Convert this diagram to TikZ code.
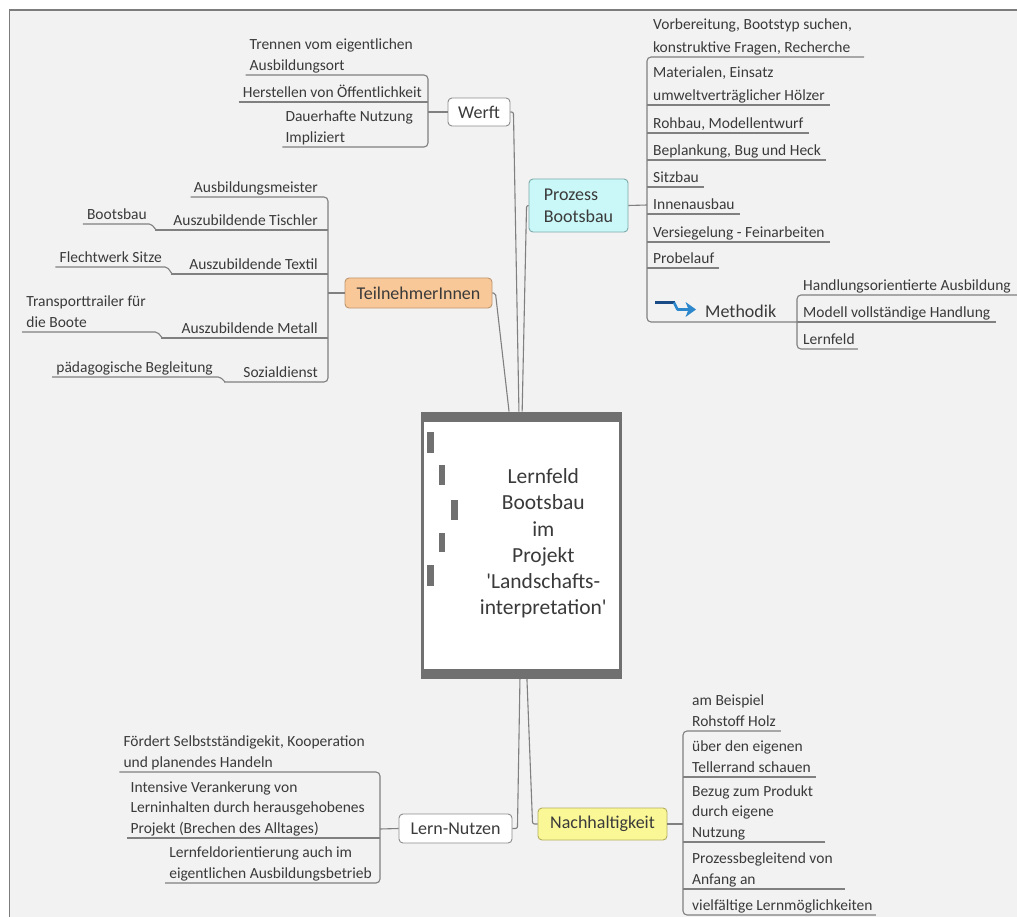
\documentclass[tikz,border=0pt]{standalone}
\usepackage{fontspec}
\setmainfont{Carlito}
\newfontfamily\hubfam{Carlito}[Ligatures=TeXOff]
\newcommand\leaffont{\fontsize{15.5}{20.5}\selectfont}
\newcommand\procfont{\fontsize{15.5}{23}\selectfont}
\newcommand\topicfont{\fontsize{18}{22}\selectfont}
\newcommand\hubfont{\hubfam\fontsize{21.5}{26.3}\selectfont}
\newcommand\ulstrut{\rule[-4.6pt]{0pt}{4.6pt}}
\definecolor{bgc}{RGB}{242,242,242}
\definecolor{framec}{RGB}{125,125,125}
\definecolor{linec}{RGB}{128,128,128}
\definecolor{txt}{RGB}{58,58,58}
\definecolor{hubc}{RGB}{112,112,112}
\definecolor{boxb}{RGB}{140,140,140}
\definecolor{cyanf}{RGB}{202,247,247}
\definecolor{cyanb}{RGB}{125,170,170}
\definecolor{orangef}{RGB}{249,200,152}
\definecolor{orangeb}{RGB}{190,150,110}
\definecolor{yellowf}{RGB}{250,247,150}
\definecolor{yellowb}{RGB}{180,175,95}
\definecolor{arrowdark}{RGB}{25,75,135}
\definecolor{arrowlight}{RGB}{45,135,205}
\tikzset{
  leaf/.style={font=\leaffont, text=txt, align=left, inner xsep=0pt, inner ysep=0pt, execute at end node=\ulstrut},
  topic/.style={font=\topicfont, text=txt, draw=boxb, fill=white, rounded corners=4pt, line width=0.9pt, inner sep=0pt},
  con/.style={draw=linec, line width=1.1pt, rounded corners=4pt},
  hubcon/.style={draw=linec, line width=1.1pt, rounded corners=2pt},
}
\begin{document}
\begin{tikzpicture}[x=1pt,y=-1pt]
\useasboundingbox (0,0) rectangle (1017,917);
% frame and background
\fill[white] (0,0) rectangle (1017,917);
\fill[bgc] (9.5,10) rectangle (1017,917);
\draw[framec, line width=1.2pt] (9.5,917) -- (9.5,10) -- (1017,10);

% central node
\node[fill=hubc, minimum width=201.3pt, minimum height=267.3pt, inner sep=0pt] (hub) at (521.35,545.35) {};
\fill[white] ([shift={(3,10)}]hub.north west) rectangle ([shift={(-3,-10)}]hub.south east);
\fill[hubc] (427,432) rectangle (434,453);
\fill[hubc] (439,465) rectangle (445,485);
\fill[hubc] (451,500) rectangle (458,520);
\fill[hubc] (439,533) rectangle (445,552);
\fill[hubc] (427,565) rectangle (434,586);
\node[font=\hubfont, text=txt, align=center, inner sep=0pt] (hubt) at (543.3,543.5) {Lernfeld\\Bootsbau\\im\\Projekt\\'Landschafts-\\interpretation'};

% main topics
\node[topic, minimum width=62pt, minimum height=28pt] (werft) at (479,112) {Werft};
\node[topic, fill=cyanf, draw=cyanb, minimum width=99pt, minimum height=53pt, align=left] (proz) at (578.5,205.5) {Prozess\\Bootsbau};
\node[topic, fill=orangef, draw=orangeb, minimum width=147pt, minimum height=30pt] (tn) at (418.5,293) {TeilnehmerInnen};
\node[topic, minimum width=113pt, minimum height=29pt] (lern) at (455.5,828.5) {Lern-Nutzen};
\node[topic, fill=yellowf, draw=yellowb, minimum width=129pt, minimum height=32pt] (nach) at (602.5,824) {Nachhaltigkeit};

% connectors to central node
\draw[hubcon] (tn.east) -- ++(3,0) -- ([xshift=-12.3pt]hub.north);
\draw[hubcon] (werft.east) -- ++(3,0) -- ([xshift=-2.4pt]hub.north);
\draw[hubcon] (proz.west) -- ++(-2,0) -- ([xshift=0.8pt]hub.north);
\draw[hubcon] (lern.east) -- ++(5,0) -- ([xshift=-1.4pt]hub.south);
\draw[hubcon] (nach.west) -- ++(-5,0) -- ([xshift=5.6pt]hub.south);

% Werft children
\node[leaf, anchor=south east] (w1) at (413,75) {Trennen vom eigentlichen\\Ausbildungsort};
\node[leaf, anchor=south east] (w2) at (422,102) {Herstellen von Öffentlichkeit};
\node[leaf, anchor=south east] (w3) at (413,147) {Dauerhafte Nutzung\\Impliziert};
\coordinate (wb) at (428,112);
\draw[con] ([xshift=-4pt]w1.south west) -- (w1.south -| wb) -- (w3.south -| wb) -- ([xshift=-3pt]w3.south west);
\draw[con] ([xshift=-4pt]w2.south west) -- (w2.south -| wb);
\draw[con] (werft.west) -- (wb);

% TeilnehmerInnen children
\node[leaf, anchor=south east] (t1) at (318,197) {Ausbildungsmeister};
\node[leaf, anchor=south east] (t2) at (318,230) {Auszubildende Tischler};
\node[leaf, anchor=south east] (t3) at (318,274) {Auszubildende Textil};
\node[leaf, anchor=south east] (t4) at (318,338) {Auszubildende Metall};
\node[leaf, anchor=south east] (t5) at (318,382) {Sozialdienst};
\coordinate (tb) at (328,293);
\draw[con] ([xshift=-3pt]t1.south west) -- (t1.south -| tb) -- (t5.south -| tb) -- ([xshift=-19pt]t5.south west);
\draw[con] ([xshift=-18pt]t2.south west) -- (t2.south -| tb);
\draw[con] ([xshift=-18pt]t3.south west) -- (t3.south -| tb);
\draw[con] ([xshift=-20pt]t4.south west) -- (t4.south -| tb);
\draw[con] (tn.west) -- (tb);
% grandchildren
\node[leaf, anchor=south east] (g1) at (147,224) {Bootsbau};
\node[leaf, anchor=south east] (g2) at (162,267) {Flechtwerk Sitze};
\node[leaf, anchor=south east] (g3) at (146,332) {Transporttrailer für\\die Boote};
\node[leaf, anchor=south east] (g4) at (213,377) {pädagogische Begleitung};
\draw[hubcon] ([xshift=-4pt]g1.south west) -- ([xshift=-22pt]t2.south west |- g1.south) -- ([xshift=-17pt]t2.south west);
\draw[hubcon] ([xshift=-4pt]g2.south west) -- ([xshift=-22pt]t3.south west |- g2.south) -- ([xshift=-17pt]t3.south west);
\draw[hubcon] ([xshift=-4pt]g3.south west) -- ([xshift=-24pt]t4.south west |- g3.south) -- ([xshift=-19pt]t4.south west);
\draw[hubcon] ([xshift=-4pt]g4.south west) -- ([xshift=-23pt]t5.south west |- g4.south) -- ([xshift=-18pt]t5.south west);

% Prozess Bootsbau children
\node[leaf, font=\procfont, anchor=south west] (p1) at (653,57) {Vorbereitung, Bootstyp suchen,\\konstruktive Fragen, Recherche};
\node[leaf, font=\procfont, anchor=south west] (p2) at (653,105) {Materialen, Einsatz\\umweltverträglicher Hölzer};
\node[leaf, anchor=south west] (p3) at (653,133) {Rohbau, Modellentwurf};
\node[leaf, anchor=south west] (p4) at (653,160) {Beplankung, Bug und Heck};
\node[leaf, anchor=south west] (p5) at (653,187) {Sitzbau};
\node[leaf, anchor=south west] (p6) at (653,214) {Innenausbau};
\node[leaf, anchor=south west] (p7) at (653,242) {Versiegelung - Feinarbeiten};
\node[leaf, anchor=south west] (p8) at (653,268) {Probelauf};
\node[leaf, font=\topicfont, anchor=south west] (meth) at (705,322) {Methodik};
\coordinate (pb) at (647,205);
\coordinate (mb) at (797,322);
\draw[con] ([xshift=12pt]p1.south east) -- (p1.south -| pb) -- (meth.south -| pb) -- (meth.south -| mb);
\foreach \n in {p2,p3,p4,p5,p6,p7,p8}{
  \draw[con] ([xshift=5pt]\n.south east) -- (\n.south -| pb);
}
\draw[con] (proz.east) -- (pb);
% Methodik icon
\draw[arrowdark, line width=2.6pt] (655,302.5) -- (675,302.5);
\draw[arrowlight, line width=2.6pt, line join=round] (674,302.5) -- (677.5,309.5) -- (689,309.5);
\fill[arrowlight] (685.5,302) -- (696,309.5) -- (685.5,317) -- (688.5,309.5) -- cycle;
% Methodik children
\node[leaf, anchor=south west] (m1) at (803,295) {Handlungsorientierte Ausbildung};
\node[leaf, anchor=south west] (m2) at (803,322) {Modell vollständige Handlung};
\node[leaf, anchor=south west] (m3) at (803,349) {Lernfeld};
\draw[con] ([xshift=6pt]m1.south east) -- (m1.south -| mb) -- (m3.south -| mb) -- ([xshift=3pt]m3.south east);
\draw[con] (mb) -- ([xshift=5pt]m2.south east);

% Lern-Nutzen children
\node[leaf, anchor=south east] (l1) at (365,772) {Fördert Selbstständigekit, Kooperation\\und planendes Handeln};
\node[leaf, anchor=south east] (l2) at (365,838) {Intensive Verankerung von\\Lerninhalten durch herausgehobenes\\Projekt (Brechen des Alltages)};
\node[leaf, anchor=south east] (l3) at (372,883) {Lernfeldorientierung auch im\\eigentlichen Ausbildungsbetrieb};
\coordinate (lb) at (380,829);
\draw[con] ([xshift=-4pt]l1.south west) -- (l1.south -| lb) -- (l3.south -| lb) -- ([xshift=-4pt]l3.south west);
\draw[con] ([xshift=-3pt]l2.south west) -- (l2.south -| lb);
\draw[con] (lern.west) -- (lb);

% Nachhaltigkeit children
\node[leaf, anchor=south west] (n1) at (692,731) {am Beispiel\\Rohstoff Holz};
\node[leaf, anchor=south west] (n2) at (692,777) {über den eigenen\\Tellerrand schauen};
\node[leaf, anchor=south west] (n3) at (692,842) {Bezug zum Produkt\\durch eigene\\Nutzung};
\node[leaf, anchor=south west] (n4) at (692,889) {Prozessbegleitend von\\Anfang an};
\node[leaf, anchor=south west] (n5) at (692,915) {vielfältige Lernmöglichkeiten};
\coordinate (nb) at (683,824);
\draw[con] ([xshift=5pt]n1.south east) -- (n1.south -| nb) -- (n5.south -| nb) -- ([xshift=3pt]n5.south east);
\draw[con] ([xshift=5pt]n2.south east) -- (n2.south -| nb);
\draw[con] ([xshift=12pt]n3.south east) -- (n3.south -| nb);
\draw[con] ([xshift=12pt]n4.south east) -- (n4.south -| nb);
\draw[con] (nach.east) -- (nb);
\end{tikzpicture}
\end{document}
